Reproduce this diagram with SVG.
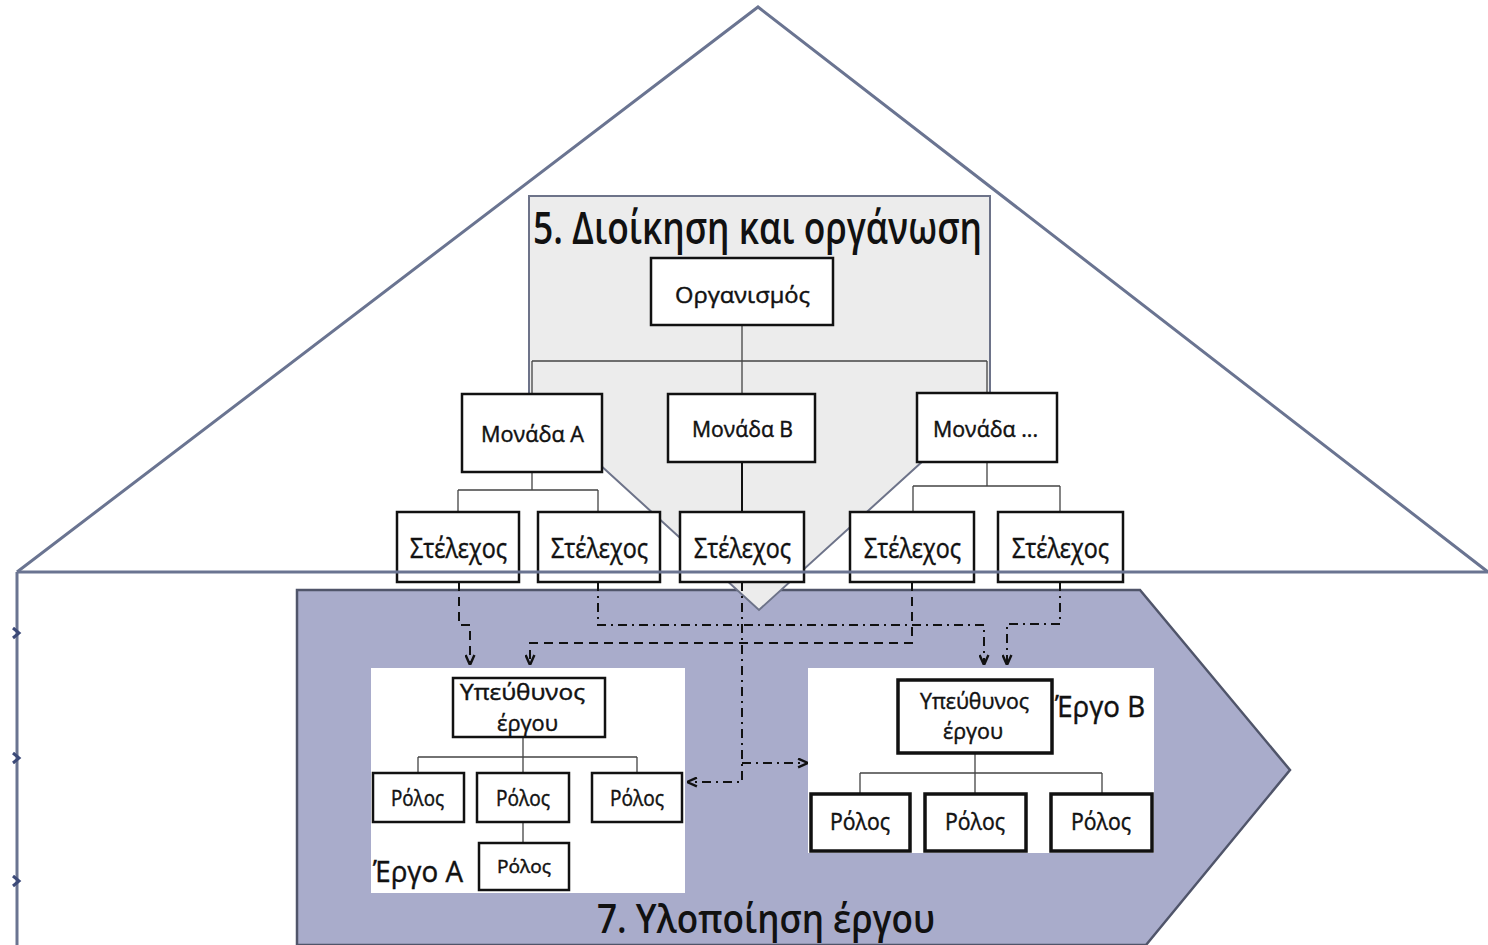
<svg xmlns="http://www.w3.org/2000/svg" width="1488" height="945" viewBox="0 0 1488 945">
<defs>
<style>
.frame{fill:none;stroke:#6a7491;stroke-width:3}
.box{fill:#fff;stroke:#111;stroke-width:2.5}
.boxb{fill:#fff;stroke:#111;stroke-width:3.5}
.t{font-family:"Open Sans","Noto Sans","DejaVu Sans",sans-serif;fill:#111;stroke:#111;stroke-width:0.45}
.thin{fill:none;stroke:#444;stroke-width:1.3}
.thick{fill:none;stroke:#111;stroke-width:2}
.dash{fill:none;stroke:#111;stroke-width:2;stroke-dasharray:9 6}
.dashdot{fill:none;stroke:#111;stroke-width:2;stroke-dasharray:9 5 2 5}
</style>
<marker id="arr" viewBox="0 0 10 10" refX="10" refY="5" markerWidth="11" markerHeight="11" markerUnits="userSpaceOnUse" orient="auto">
<path d="M1,1 L10,5 L1,9" fill="none" stroke="#111" stroke-width="2.2"/>
</marker>
</defs>
<rect width="1488" height="945" fill="#fff"/>

<g id="house-frame">
<polyline class="frame" points="17,572 758,7 1488,572"/>
<path class="frame" d="M17,572 V945"/>
<path d="M13,628 L19,633 L13,638 M13,753 L19,758 L13,763 M13,876 L19,881 L13,886" fill="none" stroke="#3c4a78" stroke-width="3"/>
</g>

<g id="implementation">
<polygon points="297,590 1140,590 1290,770 1146,945 297,945" fill="#a9accb" stroke="#50556a" stroke-width="2.5"/>
<text class="t" x="597" y="933" font-size="40" font-weight="600" style="stroke-width:0" textLength="338" lengthAdjust="spacingAndGlyphs">7. Υλοποίηση έργου</text>
</g>

<g id="administration">
<polygon points="529,196 990,196 990,400 759,610 529,400" fill="#ececec" stroke="#6d7389" stroke-width="2"/>
<text class="t" x="533" y="244" font-size="45" font-weight="600" style="stroke-width:0" textLength="449" lengthAdjust="spacingAndGlyphs">5. Διοίκηση και οργάνωση</text>
</g>

<g id="project-a-area"><rect x="371" y="668" width="314" height="225" fill="#fff"/>
<text class="t" x="373" y="882" font-size="29" textLength="90" lengthAdjust="spacingAndGlyphs">Έργο A</text></g>
<g id="project-b-area"><rect x="808" y="668" width="346" height="185" fill="#fff"/>
<text class="t" x="1055" y="717" font-size="29" textLength="90" lengthAdjust="spacingAndGlyphs">Έργο  B</text></g>

<g id="connectors">
<path class="thin" d="M742,325 V395 M532,361 H987 M532,361 V394 M987,361 V393"/>
<path class="thin" d="M532,472 V490 M458,490 H598 M458,490 V512 M598,490 V512"/>
<path class="thick" d="M742,462 V512"/>
<path class="thin" d="M987,462 V486 M913,486 H1060 M913,486 V512 M1060,486 V512"/>
<path class="thin" d="M523,737 V757 M418,757 H637 M418,757 V773 M523,757 V773 M637,757 V773 M523,822 V843"/>
<path class="thin" d="M975,753 V773 M860,773 H1102 M860,773 V794 M975,773 V794 M1102,773 V794"/>
<path class="dash" d="M459,582 V625 H470 V665" marker-end="url(#arr)"/>
<path class="dashdot" d="M598,582 V625 H984 V665" marker-end="url(#arr)"/>
<path class="dashdot" d="M742,582 V782 H687" marker-end="url(#arr)"/>
<path class="dashdot" d="M742,763 H808" marker-end="url(#arr)"/>
<path class="dash" d="M912,582 V643 H530 V665" marker-end="url(#arr)"/>
<path class="dashdot" d="M1060,582 V624 H1007 V665" marker-end="url(#arr)"/>
</g>

<g id="organismos"><rect class="box" x="651" y="258" width="182" height="67"/>
<text class="t" x="675" y="303" font-size="22" textLength="135" lengthAdjust="spacingAndGlyphs">Οργανισμός</text></g>
<g id="monada-a"><rect class="box" x="462" y="394" width="140" height="78"/>
<text class="t" x="481" y="442" font-size="22" textLength="103" lengthAdjust="spacingAndGlyphs">Μονάδα A</text></g>
<g id="monada-b"><rect class="box" x="668" y="394" width="147" height="68"/>
<text class="t" x="692" y="437" font-size="22" textLength="101" lengthAdjust="spacingAndGlyphs">Μονάδα B</text></g>
<g id="monada-etc"><rect class="box" x="917" y="393" width="140" height="69"/>
<text class="t" x="933" y="437" font-size="22" textLength="105" lengthAdjust="spacingAndGlyphs">Μονάδα ...</text></g>

<g id="stelexos-1"><rect class="box" x="397" y="512" width="122" height="70"/>
<text class="t" x="410" y="558" font-size="27" textLength="97" lengthAdjust="spacingAndGlyphs">Στέλεχος</text></g>
<g id="stelexos-2"><rect class="box" x="538" y="512" width="122" height="70"/>
<text class="t" x="551" y="558" font-size="27" textLength="97" lengthAdjust="spacingAndGlyphs">Στέλεχος</text></g>
<g id="stelexos-3"><rect class="box" x="680" y="512" width="124" height="70"/>
<text class="t" x="694" y="558" font-size="27" textLength="97" lengthAdjust="spacingAndGlyphs">Στέλεχος</text></g>
<g id="stelexos-4"><rect class="box" x="850" y="512" width="124" height="70"/>
<text class="t" x="864" y="558" font-size="27" textLength="97" lengthAdjust="spacingAndGlyphs">Στέλεχος</text></g>
<g id="stelexos-5"><rect class="box" x="998" y="512" width="125" height="70"/>
<text class="t" x="1012" y="558" font-size="27" textLength="97" lengthAdjust="spacingAndGlyphs">Στέλεχος</text></g>

<path class="frame" d="M17,572 H1488"/>

<g id="pm-a"><rect class="box" x="453" y="678" width="152" height="59"/>
<text class="t" x="460" y="700" font-size="22" textLength="125" lengthAdjust="spacingAndGlyphs">Υπεύθυνος</text>
<text class="t" x="497" y="731" font-size="22" textLength="61" lengthAdjust="spacingAndGlyphs">έργου</text></g>
<g id="rolos-a1"><rect class="box" x="373" y="773" width="91" height="49"/>
<text class="t" x="391" y="806" font-size="21" textLength="53" lengthAdjust="spacingAndGlyphs">Ρόλος</text></g>
<g id="rolos-a2"><rect class="box" x="477" y="773" width="92" height="49"/>
<text class="t" x="496" y="806" font-size="21" textLength="54" lengthAdjust="spacingAndGlyphs">Ρόλος</text></g>
<g id="rolos-a3"><rect class="box" x="592" y="773" width="90" height="49"/>
<text class="t" x="610" y="806" font-size="21" textLength="54" lengthAdjust="spacingAndGlyphs">Ρόλος</text></g>
<g id="rolos-a4"><rect class="box" x="479" y="843" width="90" height="47"/>
<text class="t" x="497" y="873" font-size="19" textLength="54" lengthAdjust="spacingAndGlyphs">Ρόλος</text></g>

<g id="pm-b"><rect class="boxb" x="898" y="680" width="154" height="73"/>
<text class="t" x="920" y="709" font-size="22" textLength="109" lengthAdjust="spacingAndGlyphs">Υπεύθυνος</text>
<text class="t" x="943" y="739" font-size="22" textLength="60" lengthAdjust="spacingAndGlyphs">έργου</text></g>
<g id="rolos-b1"><rect class="boxb" x="811" y="794" width="99" height="57"/>
<text class="t" x="830" y="830" font-size="24" textLength="60" lengthAdjust="spacingAndGlyphs">Ρόλος</text></g>
<g id="rolos-b2"><rect class="boxb" x="925" y="794" width="101" height="57"/>
<text class="t" x="945" y="830" font-size="24" textLength="60" lengthAdjust="spacingAndGlyphs">Ρόλος</text></g>
<g id="rolos-b3"><rect class="boxb" x="1051" y="794" width="101" height="57"/>
<text class="t" x="1071" y="830" font-size="24" textLength="60" lengthAdjust="spacingAndGlyphs">Ρόλος</text></g>
</svg>
